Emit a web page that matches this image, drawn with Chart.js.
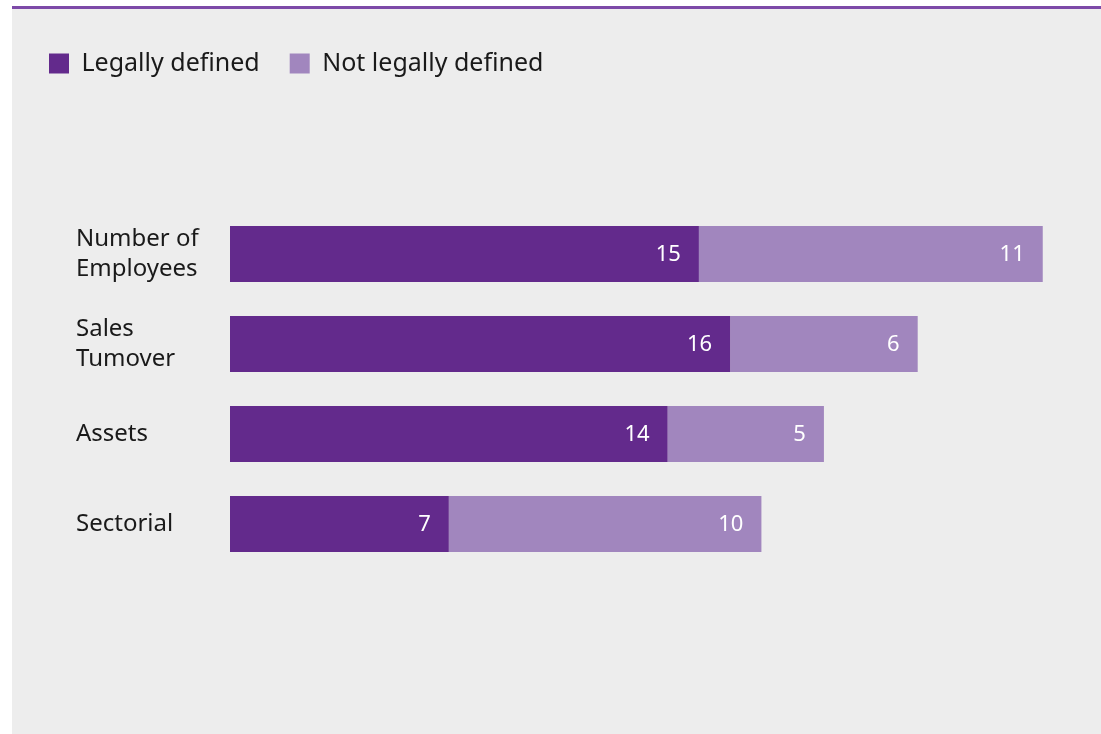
<!DOCTYPE html>
<html>
<head>
<meta charset="utf-8">
<script src="https://cdn.jsdelivr.net/npm/chart.js@4/dist/chart.umd.min.js"></script>
<style>
  html, body { margin: 0; padding: 0; background: #fff; }
  #wrap { position: relative; width: 1101px; height: 734px; }
</style>
</head>
<body>
<div id="wrap"><canvas id="grafica"></canvas></div>
<script>
// datos
const categorias = [['Number of', 'Employees'], ['Sales', 'Tumover'], ['Assets'], ['Sectorial']];
const legalmente = [15, 16, 14, 7];
const noLegalmente = [11, 6, 5, 10];
const nombresSeries = ['Legally defined', 'Not legally defined'];

const colorOscuro = '#632a8c';
const colorClaro = '#a186be';
const fuente = '"Noto Sans", "DejaVu Sans", sans-serif';

// fondo gris con la linea morada arriba
const fondoPanel = {
    id: 'fondoPanel',
    beforeDraw(chart) {
        const c = chart.ctx;
        c.save();
        c.fillStyle = '#ffffff';
        c.fillRect(0, 0, chart.width, chart.height);
        c.fillStyle = '#ededed';
        c.fillRect(12, 9, chart.width - 12, chart.height - 9);
        c.fillStyle = '#7d4aa8';
        c.fillRect(12, 6, chart.width - 12, 3);
        c.restore();
    }
};

// la leyenda va arriba a la izquierda y deja espacio debajo
const ajusteLeyenda = {
    id: 'ajusteLeyenda',
    afterInit(chart) {
        const fit = chart.legend.fit;
        chart.legend.fit = function () {
            fit.call(this);
            this.height = 188;
        };
    },
    afterLayout(chart) {
        chart.legend.left = 19;
    }
};

// numeros blancos dentro de cada barra
const etiquetasValor = {
    id: 'etiquetasValor',
    afterDatasetsDraw(chart) {
        const c = chart.ctx;
        c.save();
        c.fillStyle = '#ffffff';
        c.font = '22px ' + fuente;
        c.textAlign = 'right';
        c.textBaseline = 'middle';
        chart.data.datasets.forEach((ds, i) => {
            chart.getDatasetMeta(i).data.forEach((bar, j) => {
                c.fillText(String(ds.data[j]), bar.x - 18, bar.y + 1);
            });
        });
        c.restore();
    }
};

new Chart(document.getElementById('grafica'), {
    type: 'bar',
    data: {
        labels: categorias,
        datasets: [{
            label: nombresSeries[0],
            data: legalmente,
            backgroundColor: colorOscuro,
            barPercentage: 1,
            categoryPercentage: 0.62
        }, {
            label: nombresSeries[1],
            data: noLegalmente,
            backgroundColor: colorClaro,
            barPercentage: 1,
            categoryPercentage: 0.62
        }]
    },
    options: {
        indexAxis: 'y',
        responsive: true,
        maintainAspectRatio: false,
        animation: false,
        layout: { padding: { left: 76, right: 27, top: 21, bottom: 165 } },
        plugins: {
            tooltip: { enabled: false },
            legend: {
                position: 'top',
                align: 'start',
                labels: {
                    boxWidth: 20,
                    boxHeight: 20,
                    padding: 30,
                    color: '#1a1a1a',
                    font: { family: fuente, size: 25 }
                }
            }
        },
        scales: {
            x: {
                stacked: true,
                display: false,
                min: 0,
                max: 27
            },
            y: {
                stacked: true,
                grid: { display: false },
                border: { display: false },
                afterFit(scale) { scale.width = 154; },
                ticks: {
                    crossAlign: 'far',
                    color: '#1a1a1a',
                    font: { family: fuente, size: 24, lineHeight: 1.25 }
                }
            }
        }
    },
    plugins: [fondoPanel, ajusteLeyenda, etiquetasValor]
});
</script>
</body>
</html>
